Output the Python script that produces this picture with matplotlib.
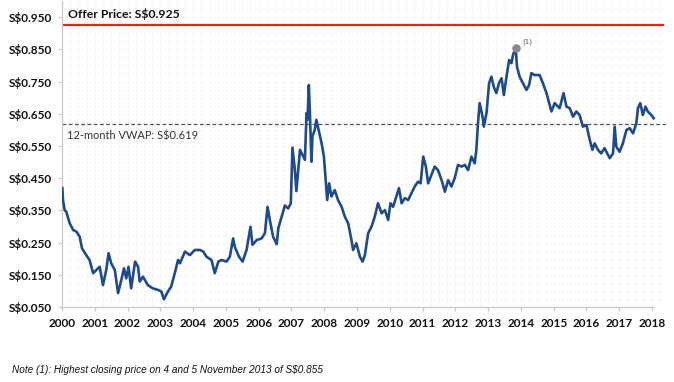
import matplotlib
matplotlib.use("Agg")
import matplotlib.pyplot as plt
import numpy as np

# ---- data (decimal year, closing price S$) ----
dates = [
    2000.01, 2000.03, 2000.08, 2000.13, 2000.23, 2000.34, 2000.44, 2000.54, 2000.61, 2000.74,
    2000.84, 2000.95, 2001.05, 2001.15, 2001.25, 2001.35, 2001.42, 2001.50, 2001.61, 2001.71,
    2001.81, 2001.89, 2001.96, 2002.03, 2002.11, 2002.23, 2002.32, 2002.37, 2002.47, 2002.62,
    2002.77, 2002.93, 2003.03, 2003.11, 2003.23, 2003.33, 2003.44, 2003.54, 2003.60, 2003.75,
    2003.90, 2004.05, 2004.21, 2004.31, 2004.41, 2004.56, 2004.66, 2004.77, 2004.87, 2005.02,
    2005.12, 2005.22, 2005.27, 2005.40, 2005.51, 2005.63, 2005.75, 2005.81, 2005.94, 2006.09,
    2006.19, 2006.27, 2006.34, 2006.44, 2006.55, 2006.60, 2006.70, 2006.80, 2006.90, 2006.98,
    2007.03, 2007.10, 2007.15, 2007.26, 2007.36, 2007.41, 2007.46, 2007.49, 2007.53, 2007.56,
    2007.61, 2007.64, 2007.71, 2007.76, 2007.84, 2007.92, 2007.99, 2008.05, 2008.09, 2008.15,
    2008.22, 2008.32, 2008.42, 2008.53, 2008.63, 2008.73, 2008.83, 2008.88, 2008.98, 2009.09,
    2009.17, 2009.24, 2009.34, 2009.44, 2009.54, 2009.64, 2009.75, 2009.85, 2009.95, 2010.02,
    2010.10, 2010.20, 2010.28, 2010.36, 2010.46, 2010.56, 2010.66, 2010.76, 2010.86, 2010.94,
    2011.02, 2011.10, 2011.17, 2011.27, 2011.37, 2011.47, 2011.58, 2011.68, 2011.78, 2011.88,
    2011.98, 2012.08, 2012.19, 2012.29, 2012.39, 2012.49, 2012.59, 2012.64, 2012.69, 2012.74,
    2012.83, 2012.87, 2012.95, 2013.03, 2013.10, 2013.17, 2013.25, 2013.33, 2013.41, 2013.48,
    2013.56, 2013.64, 2013.71, 2013.76, 2013.84, 2013.88, 2013.96, 2014.06, 2014.17, 2014.25,
    2014.32, 2014.42, 2014.57, 2014.67, 2014.78, 2014.86, 2014.93, 2015.03, 2015.18, 2015.30,
    2015.39, 2015.49, 2015.59, 2015.69, 2015.79, 2015.89, 2016.00, 2016.10, 2016.18, 2016.25,
    2016.35, 2016.45, 2016.55, 2016.66, 2016.71, 2016.81, 2016.86, 2016.91, 2017.01, 2017.11,
    2017.22, 2017.32, 2017.42, 2017.52, 2017.57, 2017.64, 2017.72, 2017.80, 2017.87, 2017.98,
    2018.05,
]
prices = [
    0.419, 0.382, 0.351, 0.346, 0.311, 0.289, 0.284, 0.268, 0.232, 0.211,
    0.196, 0.155, 0.165, 0.175, 0.118, 0.165, 0.217, 0.186, 0.165, 0.093,
    0.134, 0.170, 0.139, 0.175, 0.108, 0.191, 0.175, 0.129, 0.144, 0.118,
    0.108, 0.103, 0.098, 0.074, 0.098, 0.113, 0.155, 0.196, 0.186, 0.222,
    0.211, 0.227, 0.227, 0.222, 0.206, 0.196, 0.155, 0.191, 0.196, 0.191,
    0.206, 0.263, 0.237, 0.206, 0.191, 0.227, 0.299, 0.243, 0.258, 0.263,
    0.279, 0.361, 0.320, 0.268, 0.245, 0.295, 0.330, 0.365, 0.356, 0.372,
    0.545, 0.480, 0.410, 0.538, 0.517, 0.507, 0.652, 0.631, 0.739, 0.662,
    0.501, 0.579, 0.600, 0.631, 0.594, 0.558, 0.517, 0.434, 0.382, 0.434,
    0.393, 0.413, 0.382, 0.361, 0.330, 0.310, 0.258, 0.227, 0.248, 0.206,
    0.191, 0.211, 0.279, 0.299, 0.330, 0.372, 0.341, 0.351, 0.320, 0.372,
    0.361, 0.393, 0.419, 0.372, 0.388, 0.382, 0.403, 0.424, 0.439, 0.434,
    0.517, 0.486, 0.434, 0.460, 0.486, 0.475, 0.444, 0.408, 0.444, 0.424,
    0.450, 0.491, 0.486, 0.491, 0.475, 0.517, 0.496, 0.538, 0.620, 0.683,
    0.641, 0.610, 0.652, 0.745, 0.765, 0.734, 0.714, 0.745, 0.760, 0.708,
    0.765, 0.817, 0.807, 0.833, 0.855, 0.796, 0.765, 0.745, 0.724, 0.739,
    0.776, 0.770, 0.770, 0.745, 0.714, 0.683, 0.657, 0.683, 0.667, 0.714,
    0.672, 0.667, 0.641, 0.657, 0.646, 0.610, 0.615, 0.569, 0.538, 0.558,
    0.538, 0.527, 0.543, 0.522, 0.512, 0.527, 0.610, 0.548, 0.532, 0.558,
    0.600, 0.605, 0.589, 0.620, 0.667, 0.683, 0.646, 0.672, 0.657, 0.646,
    0.636,
]
year_ticks = list(range(2000, 2019))
price_ticks = [0.05, 0.15, 0.25, 0.35, 0.45, 0.55, 0.65, 0.75, 0.85, 0.95]
offer_price = 0.925
vwap = 0.619
peak_date = 2013.84
peak_price = 0.855

fig = plt.figure(figsize=(6.74, 3.82), dpi=100)
ax = fig.add_axes([62 / 674, 1 - 307 / 382, (666 - 62) / 674, (307 - 1) / 382])

xmin, xmax = 2000, 2000 + (666 - 62) / 32.78
ax.set_xlim(xmin, xmax)
ax.set_ylim(0.05, 1.0)

# faint grid
ax.set_xticks(np.arange(2000, 2018.5, 0.25), minor=True)
ax.set_yticks(np.arange(0.05, 1.0, 0.025), minor=True)
ax.grid(which="both", color="#f6f6f6", linewidth=0.6)
ax.set_axisbelow(True)
ax.tick_params(which="minor", length=0)

ax.plot(dates, prices, color="#1f4b8b", linewidth=1.9, zorder=3)

ax.axhline(offer_price, xmin=0, xmax=1 - 3 / 604, color="#e8201f", linewidth=1.6, zorder=2)
ax.plot([xmin, xmax], [vwap, vwap], color="#555555", linewidth=0.9,
        linestyle=(0, (3, 2)), zorder=2)

ax.scatter([peak_date], [peak_price], s=26, color="#888888", zorder=4)
ax.annotate("(1)", (peak_date, peak_price), xytext=(5, 2), textcoords="offset points",
            fontsize=5, color="#555555", va="bottom", ha="left")

ax.text(2000.18, offer_price + 0.017, "Offer Price: S$0.925", fontsize=8.8,
        fontweight="bold", family="Lato", color="#111111", va="bottom")
ax.text(2000.15, vwap - 0.02, "12-month VWAP: S$0.619", fontsize=7.9,
        family="Lato", color="#333333", va="top")

ax.set_xticks(year_ticks)
ax.set_xticklabels([str(y) for y in year_ticks])
ax.set_yticks(price_ticks)
ax.set_yticklabels(["S$%.3f" % p for p in price_ticks])
for lab in ax.get_xticklabels() + ax.get_yticklabels():
    lab.set_fontfamily("Lato")
    lab.set_fontweight("bold")
    lab.set_fontsize(8.5)
    lab.set_color("#111111")
ax.tick_params(axis="x", which="major", length=3, color="#c8c8c8", pad=5)
ax.tick_params(axis="y", which="major", length=3, color="#c8c8c8", pad=4)

for s in ["top", "right"]:
    ax.spines[s].set_visible(False)
for s in ["left", "bottom"]:
    ax.spines[s].set_color("#c8c8c8")
    ax.spines[s].set_linewidth(0.9)
ax.spines["bottom"].set_bounds(2000, 2018.03)

fig.text(12 / 674, 1 - 370 / 382, "Note (1): Highest closing price on 4 and 5 November 2013 of S$0.855",
         fontsize=7.2, style="italic", family="Liberation Sans", color="#111111", va="center")

fig.savefig("out.png", dpi=100)
